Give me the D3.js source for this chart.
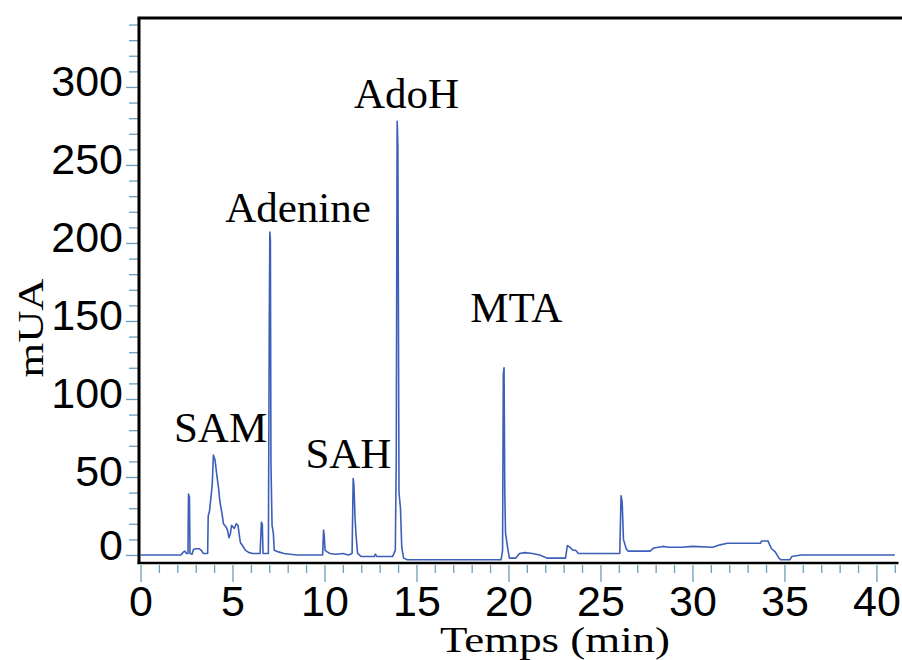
<!DOCTYPE html>
<html><head><meta charset="utf-8">
<script src="https://cdn.jsdelivr.net/npm/d3@7/dist/d3.min.js"></script>
<style>
body{margin:0;background:#fff}
svg{display:block}
</style>
</head><body>
<svg id="chart" width="902" height="660"></svg>
<script>
// ---- data: chromatogram trace (time in min, absorbance in mUA) ----
const times = [
  0, 2.2, 2.3, 2.4, 2.5, 2.58, 2.61, 2.66, 2.69, 2.8, 2.88, 3.0, 3.2, 3.3, 3.42,
  3.65, 3.68, 3.75, 3.9, 3.96, 4.05, 4.15, 4.24, 4.3, 4.35, 4.45, 4.51, 4.65, 4.73,
  4.81, 4.89, 4.95, 5.1, 5.2, 5.3, 5.38, 5.43, 5.6, 5.71, 5.9, 6.1, 6.5, 6.57, 6.62,
  6.66, 6.95, 7.0, 7.03, 7.06, 7.09, 7.15, 7.22, 7.27, 7.5, 7.8, 8.5, 9.9, 9.95,
  9.99, 10.03, 10.15, 10.3, 10.6, 11.0, 11.3, 11.5, 11.56, 11.6, 11.66, 11.72, 11.8,
  12.0, 12.7, 12.77, 12.85, 13.7, 13.85, 13.9, 13.95, 13.99, 14.05, 14.13, 14.2,
  14.3, 14.5, 19.6, 19.68, 19.72, 19.76, 19.8, 19.84, 19.95, 20.05, 20.4, 20.6,
  20.9, 21.3, 21.7, 22.1, 22.6, 23.1, 23.2, 23.35, 23.5, 23.65, 23.8, 26.05, 26.12,
  26.18, 26.25, 26.4, 26.5, 27.7, 27.9, 28.4, 28.7, 29.4, 30.0, 31.1, 31.5, 31.9,
  33.7, 33.75, 34.1, 34.3, 34.5, 34.7, 34.8, 35.3, 35.4, 35.9, 41.0
];
const values = [
  0, 0, 1.5, 2.5, 1, 1, 39, 37, 1, 0.5, 3.5, 4, 4, 3, 1,
  1, 25, 28, 45, 64, 61, 51, 43, 36, 32, 25, 20, 18, 16,
  11, 14, 19, 17, 20, 19, 12, 8, 5, 3, 1.5, 1, 1, 21, 20,
  1, 1, 150, 207, 202, 60, 19, 14, 3, 2, 1, 0, 0, 16,
  12, 3, 2, 1, 0.5, 1, 0, 1, 49, 45, 24, 12, 1,
  -1, -1, 0.5, -1, -1, 3, 60, 278, 262, 40, 30, 5,
  -2, -3, -3, 3, 116, 120, 40, 14, 5, -2, -2, 1,
  1.5, 1, 0, -2, -2, -2, 6, 5, 3, 3, 1, 1, 38,
  34, 10, 4, 2.5, 2.5, 4.5, 5.5, 5, 5, 5.5, 5, 6.5, 7.5,
  7.5, 9, 9, 4, 2, -2, -3, -3, -1, 0, 0
];

// ---- peak annotations ----
const peakNames  = ["SAM", "Adenine", "SAH", "AdoH", "MTA"];
const peakLabelT = [4.35, 8.56, 11.3, 14.46, 20.43];
const peakLabelV = [72.4, 213.5, 55.8, 286.5, 149.4];

// ---- axes ----
const xTickLabels = [0, 5, 10, 15, 20, 25, 30, 35, 40];
const yTickLabels = [0, 50, 100, 150, 200, 250, 300];
const xMinorTicks = d3.range(0, 42, 1);
const yMinorTicks = d3.range(0, 341, 10);
const xTitle = "Temps (min)";
const yTitle = "mUA";

// ---- layout ----
const svg = d3.select("#chart");
const x = d3.scaleLinear().domain([0, 41.2]).range([140.5, 898.5]);
const y = d3.scaleLinear().domain([-5.13, 344.2]).range([563, 18]);

const tickColor = "#6a9fc0";
const sansFont = "'Liberation Sans', Arial, Helvetica, sans-serif";
const serifFont = "'Liberation Serif', 'Times New Roman', Times, serif";

// Y axis
const yAxis = d3.axisLeft(y)
  .tickValues(yMinorTicks)
  .tickSize(10)
  .tickPadding(6)
  .tickFormat(d => yTickLabels.includes(d) ? d : "");
const gy = svg.append("g").attr("transform", `translate(${x(0) - 1.5},0)`).call(yAxis);
gy.select(".domain").remove();
gy.selectAll(".tick line").attr("stroke", tickColor).attr("stroke-width", 1.3)
  .attr("x2", d => yTickLabels.includes(d) ? -13 : -10);
gy.selectAll(".tick text")
  .attr("font-family", sansFont).attr("font-size", 43).attr("fill", "#000")
  .attr("x", -16)
  .attr("y", d => d === 0 ? -9 : -5);

// X axis
const xAxis = d3.axisBottom(x)
  .tickValues(xMinorTicks)
  .tickSize(8)
  .tickFormat(d => xTickLabels.includes(d) ? d : "");
const gx = svg.append("g").attr("transform", `translate(0,${y.range()[0]})`).call(xAxis);
gx.select(".domain").remove();
gx.selectAll(".tick line").attr("stroke", tickColor).attr("stroke-width", 1.3)
  .attr("y1", 2)
  .attr("y2", d => xTickLabels.includes(d) ? 19 : 10);
gx.selectAll(".tick text")
  .attr("font-family", sansFont).attr("font-size", 43).attr("fill", "#000")
  .attr("y", 22);

// Frame lines (left, top, bottom)
const x0 = x(0) - 1.5;
svg.append("line").attr("x1", x0).attr("x2", x0).attr("y1", y.range()[1]).attr("y2", y.range()[0] + 1)
  .attr("stroke", "#000").attr("stroke-width", 3);
svg.append("line").attr("x1", x0 - 1.5).attr("x2", 902).attr("y1", y.range()[1]).attr("y2", y.range()[1])
  .attr("stroke", "#000").attr("stroke-width", 3);
svg.append("line").attr("x1", x0 - 1.5).attr("x2", x(41.2)).attr("y1", y.range()[0]).attr("y2", y.range()[0])
  .attr("stroke", "#000").attr("stroke-width", 2.5);

// Trace
const pts = times.map((t, i) => [t, values[i]]);
svg.append("path")
  .datum(pts)
  .attr("fill", "none")
  .attr("stroke", "#3d5fb8")
  .attr("stroke-width", 1.6)
  .attr("stroke-linejoin", "round")
  .attr("d", d3.line().x(d => x(d[0])).y(d => y(d[1])));

// Peak labels
svg.append("g").selectAll("text")
  .data(peakNames)
  .join("text")
  .attr("x", (d, i) => x(peakLabelT[i]))
  .attr("y", (d, i) => y(peakLabelV[i]))
  .attr("text-anchor", "middle")
  .attr("font-family", serifFont)
  .attr("font-size", 43)
  .attr("fill", "#000")
  .text(d => d);

// Axis titles
svg.append("text")
  .attr("transform", "translate(43,328) rotate(-90)")
  .attr("text-anchor", "middle")
  .attr("font-family", serifFont)
  .attr("font-size", 35)
  .attr("textLength", 99)
  .attr("lengthAdjust", "spacingAndGlyphs")
  .attr("fill", "#000")
  .text(yTitle);

svg.append("text")
  .attr("x", 555)
  .attr("y", 652)
  .attr("text-anchor", "middle")
  .attr("font-family", serifFont)
  .attr("font-size", 36)
  .attr("textLength", 230)
  .attr("lengthAdjust", "spacingAndGlyphs")
  .attr("fill", "#000")
  .text(xTitle);
</script>
</body></html>
